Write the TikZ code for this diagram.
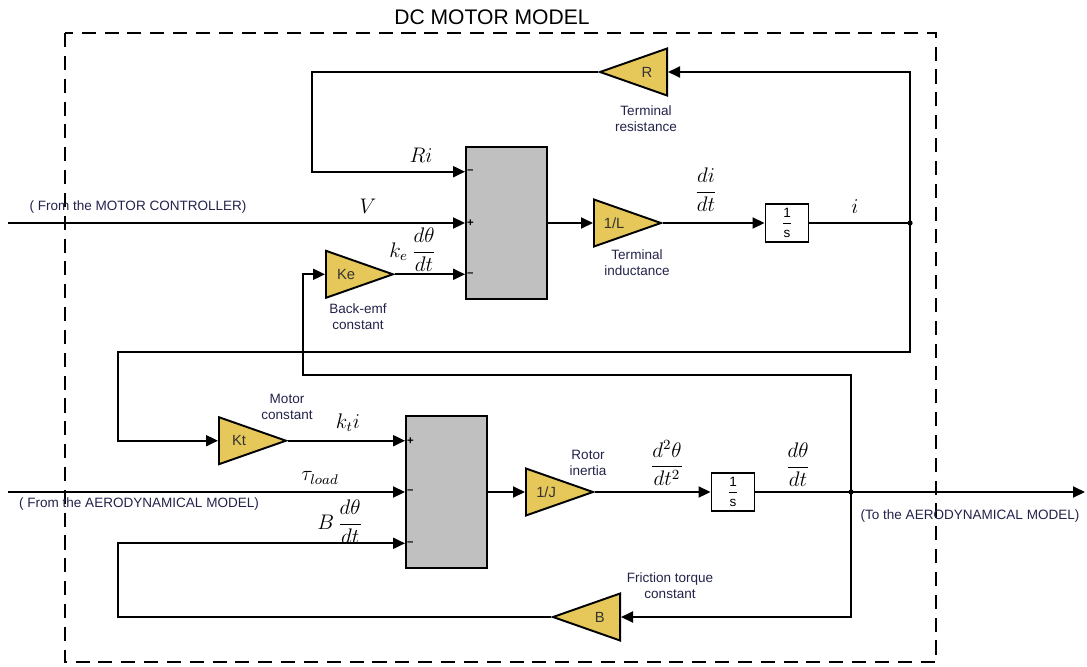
\documentclass[tikz,border=0pt]{standalone}
\usepackage{amsmath}
\usepackage{fontspec}
\setmainfont{Liberation Sans}
\usetikzlibrary{positioning,arrows.meta,calc,shapes.geometric}
\definecolor{gainfill}{HTML}{E5C75A}
\definecolor{sumfill}{HTML}{C0C0C0}
\definecolor{capink}{HTML}{22224A}

\begin{document}
\begin{tikzpicture}[
  x=0.02cm, y=-0.02cm,
  font=\fontsize{7.7}{9}\selectfont,
  >={Triangle[length=2.4mm,width=2.2mm]},
  gain/.style={isosceles triangle, isosceles triangle stretches, draw,
               fill=gainfill, line width=1.1pt, inner sep=0pt,
               minimum width=0.94cm, minimum height=1.34cm,
               anchor=lower side},
  gainR/.style={gain, label={[xshift=0.07cm, font=\fontsize{8.4}{10}\selectfont,
                text=black!80]center:#1}},
  gainL/.style={gain, shape border rotate=180,
                label={[xshift=-0.07cm, font=\fontsize{8.4}{10}\selectfont,
                text=black!80]center:#1}},
  sumblk/.style={draw, fill=sumfill, line width=1.1pt,
                 minimum width=1.62cm, minimum height=3.04cm},
  integ/.style={draw, fill=white, line width=1.1pt, inner sep=0pt,
                minimum width=0.86cm, minimum height=0.76cm},
  blkcap/.style={align=center, text=capink},
  sig/.style={font=\fontsize{12}{14}\selectfont},
  sgn/.style={font=\fontsize{6.5}{6.5}\selectfont\bfseries, inner sep=1pt,
              anchor=west},
  flow/.style={->, line width=1.1pt},
  wire/.style={line width=1.1pt},
  frame/.style={line width=1.1pt, dash pattern=on 8pt off 5pt},
]
\useasboundingbox (0,0) rectangle (1087,666);

% frame
\draw[frame] (65,33) rectangle (936,662);
\node (title) at (492,17) {\fontsize{12}{14}\selectfont DC MOTOR MODEL};

% summing blocks
\node[sumblk] (sumV) at (506.5,223) {};
\node[sumblk] (sumT) at (446.5,492) {};

\foreach \s in {sumV,sumT}
  \foreach \k/\f in {1/0.1667,2/0.5,3/0.8333}
    \coordinate (\s-in\k) at ($(\s.north west)!\f!(\s.south west)$);

% electrical part
\node[gainR=1/L] (invL) at (593,223) {};
\node[integ] (intI) at (787,223) {$\dfrac{\text{1}}{\text{s}}$};
\node[gainL=R] (Rg) at (668,72) {};
\node[gainR=Ke] (Ke) at (325,0 |- sumV-in3) {};

% mechanical part
\node[gainR=1/J] (invJ) at (525,492) {};
\node[integ] (intW) at (733,492) {$\dfrac{\text{1}}{\text{s}}$};
\node[gainR=Kt] (Kt) at (218,0 |- sumT-in1) {};
\node[gainL=B] (Bg) at (621,617) {};

\coordinate (vin) at (8,223);
\coordinate (tin) at (8,492);
\coordinate (wout) at (1085,492);
\coordinate (ibr) at (910,223);
\coordinate (wbr) at (851,492);

% signs
\node[sgn] at (sumV-in1) {–};
\node[sgn] at (sumV-in2) {+};
\node[sgn] at (sumV-in3) {–};
\node[sgn] at (sumT-in1) {+};
\node[sgn] at (sumT-in2) {–};
\node[sgn] at (sumT-in3) {–};

% forward paths
\foreach \a/\b in {sumV.east/invL.west, invL.east/intI.west,
                   sumT.east/invJ.west, invJ.east/intW.west,
                   vin/sumV-in2, tin/sumT-in2, Ke.east/sumV-in3,
                   Kt.east/sumT-in1, wbr/wout}
  \draw[flow] (\a) -- (\b);
\draw[wire] (intI.east) -- (ibr);
\draw[wire] (intW.east) -- (wbr);

% feedback paths
\draw[flow] (ibr) |- (Rg.east);
\draw[flow] (Rg.west) -- (312,72) |- (sumV-in1);
\draw[flow] (ibr) -- (910,352) -- (118,352) |- (Kt.west);
\draw[flow] (wbr) -- (851,375) -- (303,375) |- (Ke.west);
\draw[flow] (wbr) |- (Bg.east);
\draw[flow] (Bg.west) -- (118,617) |- (sumT-in3);

\fill (ibr) circle (1.5pt);
\fill (wbr) circle (1.5pt);

% signal labels
\node[sig] at (421,155) {$Ri$};
\node[sig] at (368,206) {$V$};
\node[sig] at (413,250) {$k_e\,\dfrac{d\theta}{dt}$};
\node[sig] at (706,190) {$\dfrac{di}{dt}$};
\node[sig] at (855,207) {$i$};
\node[sig] at (348,423) {$k_t i$};
\node[sig] at (320,478) {$\tau_{load}$};
\node[sig] at (340,522) {$B\,\dfrac{d\theta}{dt}$};
\node[sig] at (667,463) {$\dfrac{d^2\theta}{dt^2}$};
\node[sig] at (798,465) {$\dfrac{d\theta}{dt}$};

% captions
\node[blkcap] (cR) at (646,119) {Terminal\\resistance};
\node[blkcap] (cL) at (637,263) {Terminal\\inductance};
\node[blkcap] (cKe) at (358,317) {Back-emf\\constant};
\node[blkcap] (cKt) at (287,407) {Motor\\constant};
\node[blkcap] (cJ) at (588,463) {Rotor\\inertia};
\node[blkcap] (cB) at (670,586) {Friction torque\\constant};
\node[blkcap] (inV) at (138,207) {( From the MOTOR CONTROLLER)};
\node[blkcap] (inT) at (139,504) {( From the AERODYNAMICAL MODEL)};
\node[blkcap] (outW) at (970,516) {(To the AERODYNAMICAL MODEL)};
\end{tikzpicture}
\end{document}
